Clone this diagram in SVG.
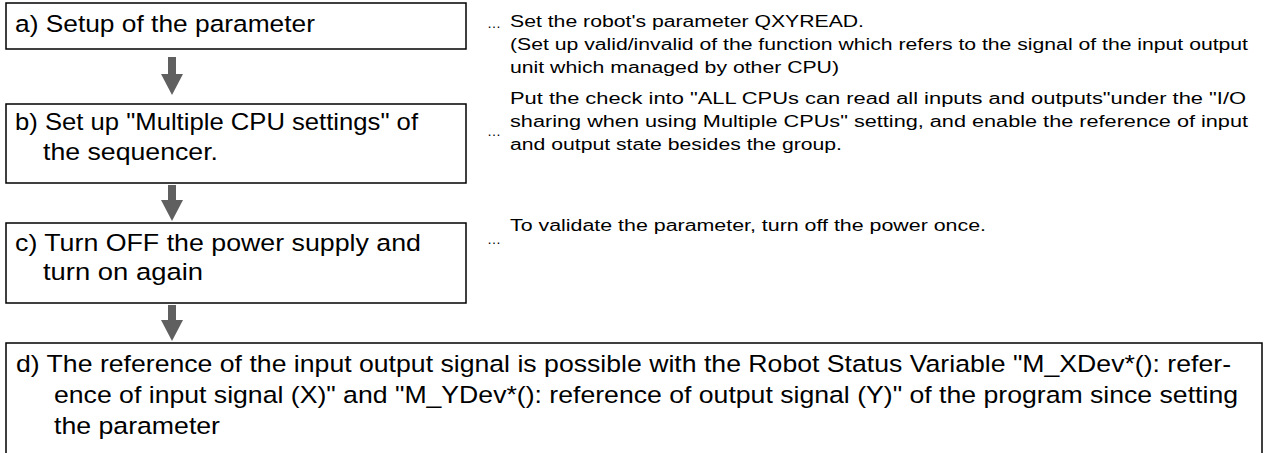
<svg xmlns="http://www.w3.org/2000/svg" width="1268" height="453" viewBox="0 0 1268 453">
<defs>
<style>
.box{fill:#fff;stroke:#000;stroke-width:1.5}
.t{font-family:"Liberation Sans",Arial,sans-serif;font-size:24.5px;fill:#000}
.r{font-family:"Liberation Sans",Arial,sans-serif;font-size:16px;fill:#000}
.dots{font-family:"Liberation Sans",Arial,sans-serif;font-size:14px;fill:#000}
.arr{fill:#606060}
</style>
</defs>
<rect width="1268" height="453" fill="#fff"/>
<g id="connectors">
<path class="arr" d="M168,57 H176 V74 H183 L172,95 L161,74 H168 Z"/>
<path class="arr" d="M168,185 H176 V200 H183 L172,221 L161,200 H168 Z"/>
<path class="arr" d="M168,305 H176 V320 H183 L172,341 L161,320 H168 Z"/>
</g>
<g id="node-a">
<rect class="box" x="6" y="3" width="460" height="46"/>
<text class="t" x="15" y="32" textLength="300" lengthAdjust="spacingAndGlyphs">a) Setup of the parameter</text>
</g>
<g id="note-a">
<text class="dots" x="487" y="28">…</text>
<text class="r" x="510" y="27" textLength="354" lengthAdjust="spacingAndGlyphs">Set the robot's parameter QXYREAD.</text>
<text class="r" x="510" y="50" textLength="738" lengthAdjust="spacingAndGlyphs">(Set up valid/invalid of the function which refers to the signal of the input output</text>
<text class="r" x="510" y="73" textLength="329" lengthAdjust="spacingAndGlyphs">unit which managed by other CPU)</text>
</g>
<g id="node-b">
<rect class="box" x="6" y="104" width="460" height="79"/>
<text class="t" x="15" y="130" textLength="403" lengthAdjust="spacingAndGlyphs">b) Set up "Multiple CPU settings" of</text>
<text class="t" x="43" y="160" textLength="175" lengthAdjust="spacingAndGlyphs">the sequencer.</text>
</g>
<g id="note-b">
<text class="dots" x="487" y="136">…</text>
<text class="r" x="510" y="104" textLength="736" lengthAdjust="spacingAndGlyphs">Put the check into "ALL CPUs can read all inputs and outputs"under the "I/O</text>
<text class="r" x="510" y="127" textLength="738" lengthAdjust="spacingAndGlyphs">sharing when using Multiple CPUs" setting, and enable the reference of input</text>
<text class="r" x="510" y="150" textLength="332" lengthAdjust="spacingAndGlyphs">and output state besides the group.</text>
</g>
<g id="node-c">
<rect class="box" x="6" y="223" width="460" height="80"/>
<text class="t" x="15" y="251" textLength="406" lengthAdjust="spacingAndGlyphs">c) Turn OFF the power supply and</text>
<text class="t" x="43" y="280" textLength="160" lengthAdjust="spacingAndGlyphs">turn on again</text>
</g>
<g id="note-c">
<text class="dots" x="487" y="244">…</text>
<text class="r" x="510" y="231" textLength="476" lengthAdjust="spacingAndGlyphs">To validate the parameter, turn off the power once.</text>
</g>
<g id="node-d">
<rect class="box" x="6" y="343" width="1256" height="130"/>
<text class="t" x="16" y="372" textLength="1215" lengthAdjust="spacingAndGlyphs">d) The reference of the input output signal is possible with the Robot Status Variable "M_XDev*(): refer-</text>
<text class="t" x="54" y="403" textLength="1184" lengthAdjust="spacingAndGlyphs">ence of input signal (X)" and "M_YDev*(): reference of output signal (Y)" of the program since setting</text>
<text class="t" x="54" y="434" textLength="166" lengthAdjust="spacingAndGlyphs">the parameter</text>
</g>
</svg>
